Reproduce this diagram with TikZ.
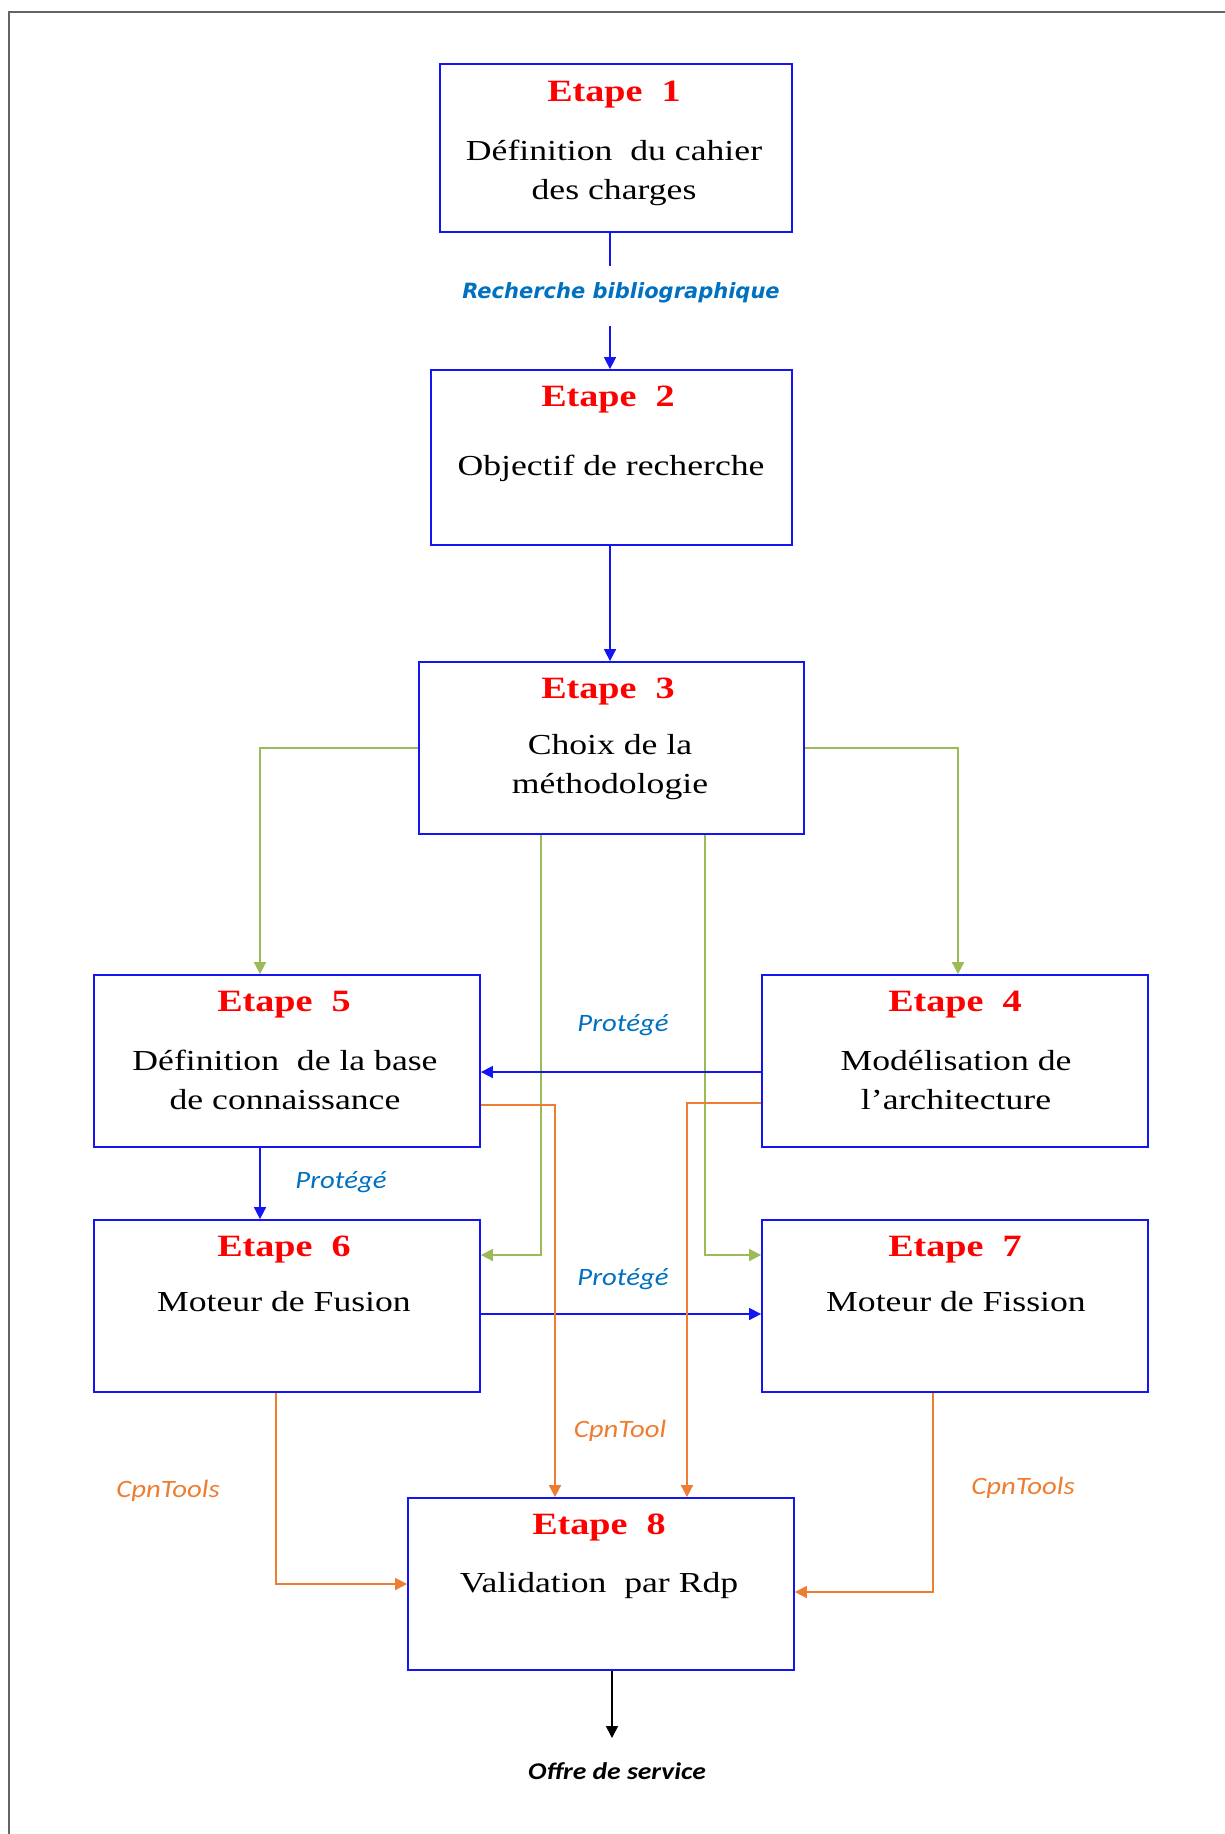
\documentclass[tikz,border=0pt]{standalone}
\usepackage{fontspec}
\usetikzlibrary{arrows.meta}
\newfontfamily\boxfont{Liberation Serif}[FakeStretch=1.23]
\newfontfamily\lblfont{Carlito}[FakeStretch=1.15]
\newfontfamily\recfont{DejaVu Sans}
\definecolor{boxblue}{RGB}{20,20,245}
\definecolor{lineblue}{RGB}{20,20,245}
\definecolor{lblblue}{RGB}{0,112,192}
\definecolor{titlered}{RGB}{255,0,0}
\definecolor{orangeline}{RGB}{237,125,49}
\definecolor{greenline}{RGB}{155,187,89}
\definecolor{framegray}{RGB}{100,100,100}
\tikzset{
  stepbox/.style={draw=boxblue, line width=1.8pt, rectangle, inner sep=0pt},
  ttl/.style={anchor=base, inner sep=0pt, text=titlered, font=\boxfont\fontsize{31}{37}\selectfont\bfseries},
  bdy/.style={anchor=base, inner sep=0pt, text=black, font=\boxfont\fontsize{29}{35}\selectfont},
  tip/.style={-{Triangle[length=12pt,width=12pt]}},
  bline/.style={draw=lineblue, line width=1.6pt},
  gline/.style={draw=greenline, line width=1.8pt, tip},
  oline/.style={draw=orangeline, line width=1.7pt, tip},
  plbl/.style={anchor=base, inner sep=0pt, text=lblblue, font=\lblfont\fontsize{25}{30}\selectfont\itshape},
  olbl/.style={anchor=base, inner sep=0pt, text=orangeline, font=\lblfont\fontsize{25}{30}\selectfont\itshape},
}
\begin{document}
\begin{tikzpicture}[x=1pt,y=-1pt]
\useasboundingbox (0,0) rectangle (1225,1834);
\draw[framegray, line width=1.5pt] (9,1834) -- (9,12) -- (1225,12);

% boxes
\node[stepbox, minimum width=352, minimum height=168] (e1) at (616,148) {};
\node[stepbox, minimum width=361, minimum height=175] (e2) at (611.5,457.5) {};
\node[stepbox, minimum width=385, minimum height=172] (e3) at (611.5,748) {};
\node[stepbox, minimum width=386, minimum height=172] (e5) at (287,1061) {};
\node[stepbox, minimum width=386, minimum height=172] (e4) at (955,1061) {};
\node[stepbox, minimum width=386, minimum height=172] (e6) at (287,1306) {};
\node[stepbox, minimum width=386, minimum height=172] (e7) at (955,1306) {};
\node[stepbox, minimum width=386, minimum height=172] (e8) at (601,1584) {};

% titles
\node[ttl] (t1) at (614,101) {Etape\ \ 1};
\node[ttl] (t2) at (608,406) {Etape\ \ 2};
\node[ttl] (t3) at (608,698) {Etape\ \ 3};
\node[ttl] (t5) at (284,1011) {Etape\ \ 5};
\node[ttl] (t4) at (955,1011) {Etape\ \ 4};
\node[ttl] (t6) at (284,1256) {Etape\ \ 6};
\node[ttl] (t7) at (955,1256) {Etape\ \ 7};
\node[ttl] (t8) at (599,1534) {Etape\ \ 8};

% bodies
\node[bdy] (b1a) at (614,160) {Définition\ \ du cahier};
\node[bdy] (b1b) at (614,199) {des charges};
\node[bdy] (b2) at (611,475) {Objectif de recherche};
\node[bdy] (b3a) at (610,754) {Choix de la};
\node[bdy] (b3b) at (610,793) {méthodologie};
\node[bdy] (b5a) at (285,1070) {Définition\ \ de la base};
\node[bdy] (b5b) at (285,1109) {de connaissance};
\node[bdy] (b4a) at (956,1070) {Modélisation de};
\node[bdy] (b4b) at (956,1109) {l’architecture};
\node[bdy] (b6) at (284,1311) {Moteur de Fusion};
\node[bdy] (b7) at (956,1311) {Moteur de Fission};
\node[bdy] (b8) at (599,1592) {Validation\ \ par Rdp};

% E1 -> E2 with label in gap
\coordinate (g1) at (610,266);
\coordinate (g2) at (610,326);
\draw[bline] (e1.south -| g1) -- (g1);
\draw[bline, tip] (g2) -- (g2 |- e2.north);
\node[anchor=base, inner sep=0pt, text=lblblue, font=\recfont\fontsize{21}{25}\selectfont\bfseries\itshape] (lrec) at (621,298) {Recherche bibliographique};

% E2 -> E3
\draw[bline, tip] (e2.south -| g1) -- (e3.north -| g1);

% green from E3
\draw[gline] (e3.west) -| ([xshift=-27pt]e5.north);
\draw[gline] (e3.east) -| ([xshift=3pt]e4.north);
\draw[gline] ([xshift=-70.5pt]e3.south) |- ([yshift=51pt]e6.east);
\draw[gline] ([xshift=93.5pt]e3.south) |- ([yshift=51pt]e7.west);

% blue Protégé
\draw[bline, tip] ([yshift=-11pt]e4.west) -- ([yshift=-11pt]e5.east);
\draw[bline, tip] ([xshift=-27pt]e5.south) -- ([xshift=-27pt]e6.north);
\draw[bline, tip] ([yshift=-8pt]e6.east) -- ([yshift=-8pt]e7.west);
\node[plbl] (p1) at (623,1031) {Protégé};
\node[plbl] (p2) at (341,1188) {Protégé};
\node[plbl] (p3) at (623,1285) {Protégé};

% orange to E8
\draw[oline] ([yshift=-44pt]e5.east) -| ([xshift=-46pt]e8.north);
\draw[oline] ([yshift=-42pt]e4.west) -| ([xshift=86pt]e8.north);
\draw[oline] ([xshift=-11pt]e6.south) |- (e8.west);
\draw[oline] ([xshift=-22pt]e7.south) |- ([yshift=-8pt]e8.east);
\node[olbl] (c1) at (620,1437) {CpnTool};
\node[olbl] (c2) at (168,1497) {CpnTools};
\node[olbl] (c3) at (1023,1494) {CpnTools};

% output
\coordinate (out) at (612,1738);
\draw[line width=1.6pt, tip] (e8.south -| out) -- (out);
\node[anchor=base, inner sep=0pt, font=\lblfont\fontsize{24}{29}\selectfont\bfseries\itshape] (offre) at (617,1779) {Offre de service};
\end{tikzpicture}
\end{document}
